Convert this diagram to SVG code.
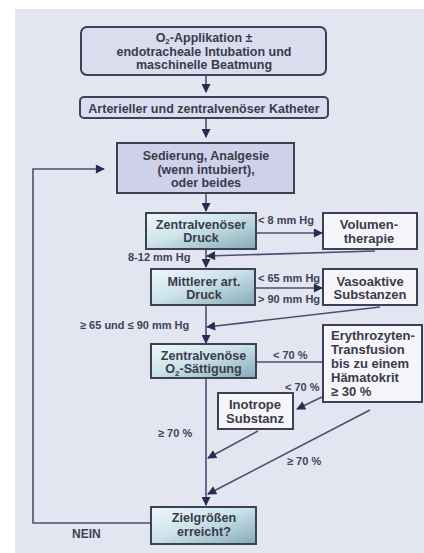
<svg xmlns="http://www.w3.org/2000/svg" width="424" height="553" viewBox="0 0 424 553">
<defs>
<style>
.t{font-family:"Liberation Sans",Arial,sans-serif;font-weight:bold;font-size:12.5px;fill:#3a3b4c;text-anchor:middle}
.g{font-size:12.6px}
.w{font-size:13px}
.l{font-family:"Liberation Sans",Arial,sans-serif;font-weight:bold;font-size:11px;fill:#3f4258}
.ln{stroke:#4a5070;stroke-width:1.6;fill:none}
.bx{stroke:#3c4058;stroke-width:2}
.wb{fill:#f5f5fa;stroke:#3c4058;stroke-width:2}
.gb{fill:url(#g);stroke:#3c4058;stroke-width:2}
</style>
<linearGradient id="g" x1="0" y1="0" x2="1" y2="1">
<stop offset="0" stop-color="#eef8fa"/>
<stop offset="0.45" stop-color="#cde4ea"/>
<stop offset="1" stop-color="#85abb8"/>
</linearGradient>
<marker id="b" viewBox="0 0 10 10" refX="9" refY="5" markerWidth="10" markerHeight="9" markerUnits="userSpaceOnUse" orient="auto">
<path d="M0,0 L10,5 L0,10 z" fill="#262c52"/>
</marker>
</defs>
<rect x="0" y="0" width="424" height="553" fill="#ffffff"/>
<rect x="15" y="9" width="409" height="544" fill="#e3e5f1"/>

<g id="connectors">
<line class="ln" x1="206" y1="75" x2="206" y2="92" marker-end="url(#b)"/>
<line class="ln" x1="206" y1="118" x2="206" y2="137" marker-end="url(#b)"/>
<line class="ln" x1="206" y1="193" x2="206" y2="211" marker-end="url(#b)"/>
<line class="ln" x1="256" y1="233" x2="322" y2="233" marker-end="url(#b)"/>
<line class="ln" x1="375" y1="251" x2="207" y2="256" marker-end="url(#b)"/>
<line class="ln" x1="206" y1="249" x2="206" y2="267" marker-end="url(#b)"/>
<line class="ln" x1="255" y1="288" x2="322" y2="288" marker-end="url(#b)"/>
<line class="ln" x1="380" y1="307" x2="207" y2="327" marker-end="url(#b)"/>
<line class="ln" x1="206" y1="305" x2="206" y2="343" marker-end="url(#b)"/>
<line class="ln" x1="256" y1="362" x2="323" y2="362"/>
<line class="ln" x1="322" y1="397" x2="297" y2="409" marker-end="url(#b)"/>
<line class="ln" x1="258" y1="431" x2="208" y2="458" marker-end="url(#b)"/>
<line class="ln" x1="370" y1="410" x2="208" y2="494" marker-end="url(#b)"/>
<line class="ln" x1="206" y1="378" x2="206" y2="505" marker-end="url(#b)"/>
<polyline class="ln" points="150,523 33,523 33,169 104,169" marker-end="url(#b)"/>
</g>

<g id="labels">
<text class="l" x="258" y="224">&lt; 8 mm Hg</text>
<text class="l" x="128" y="261">8-12 mm Hg</text>
<text class="l" x="258" y="282">&lt; 65 mm Hg</text>
<text class="l" x="258" y="303">&gt; 90 mm Hg</text>
<text class="l" x="80" y="329">≥ 65 und ≤ 90 mm Hg</text>
<text class="l" x="273" y="359">&lt; 70 %</text>
<text class="l" x="285" y="391">&lt; 70 %</text>
<text class="l" x="158" y="437">≥ 70 %</text>
<text class="l" x="287" y="465">≥ 70 %</text>
<text class="l" x="72" y="538" style="font-size:12px">NEIN</text>
</g>

<g id="n1">
<rect x="81" y="27" width="245" height="48" rx="6" fill="#dcdcef" class="bx"/>
<text class="t" x="204" y="41.5">O<tspan font-size="8" dy="2.5">2</tspan><tspan dy="-2.5">-Applikation ±</tspan></text>
<text class="t" x="204" y="55.5">endotracheale Intubation und</text>
<text class="t" x="204" y="69">maschinelle Beatmung</text>
</g>
<g id="n2">
<rect x="80" y="97" width="248" height="21" rx="4" fill="#dcdcef" class="bx"/>
<text class="t" x="204" y="112.5">Arterieller und zentralvenöser Katheter</text>
</g>
<g id="n3">
<rect x="117" y="143" width="177" height="50" fill="#cfd0e9" class="bx"/>
<text class="t" x="206" y="159.5">Sedierung, Analgesie</text>
<text class="t" x="206" y="173.5">(wenn intubiert),</text>
<text class="t" x="206" y="187">oder beides</text>
</g>
<g id="n4">
<rect x="146" y="213" width="110" height="36" class="gb"/>
<text class="t g" x="201" y="229">Zentralvenöser</text>
<text class="t g" x="201" y="242">Druck</text>
</g>
<g id="n5">
<rect x="323" y="213" width="94" height="36" class="wb"/>
<text class="t w" x="369" y="229">Volumen-</text>
<text class="t w" x="369" y="242.5">therapie</text>
</g>
<g id="n6">
<rect x="151" y="269" width="104" height="36" class="gb"/>
<text class="t g" x="204" y="286">Mittlerer art.</text>
<text class="t g" x="204" y="299">Druck</text>
</g>
<g id="n7">
<rect x="323" y="269" width="94" height="36" class="wb"/>
<text class="t w" x="370" y="285.5">Vasoaktive</text>
<text class="t w" x="370" y="299">Substanzen</text>
</g>
<g id="n8">
<rect x="151" y="344" width="105" height="34" class="gb"/>
<text class="t g" x="203.5" y="360">Zentralvenöse</text>
<text class="t g" x="203.5" y="373">O<tspan font-size="8" dy="2.5">2</tspan><tspan dy="-2.5">-Sättigung</tspan></text>
</g>
<g id="n9">
<rect x="323" y="325" width="99" height="77" class="wb"/>
<text class="t w" x="331" y="340" style="text-anchor:start">Erythrozyten-</text>
<text class="t w" x="331" y="354" style="text-anchor:start">Transfusion</text>
<text class="t w" x="331" y="368" style="text-anchor:start">bis zu einem</text>
<text class="t w" x="331" y="382" style="text-anchor:start">Hämatokrit</text>
<text class="t w" x="331" y="396" style="text-anchor:start">≥ 30 %</text>
</g>
<g id="n10">
<rect x="218" y="393" width="75" height="36" class="wb"/>
<text class="t w" x="255" y="409">Inotrope</text>
<text class="t w" x="255" y="422.5">Substanz</text>
</g>
<g id="n11">
<rect x="151" y="507" width="105" height="37" class="gb"/>
<text class="t g" x="204" y="522">Zielgrößen</text>
<text class="t g" x="204" y="536">erreicht?</text>
</g>
</svg>
